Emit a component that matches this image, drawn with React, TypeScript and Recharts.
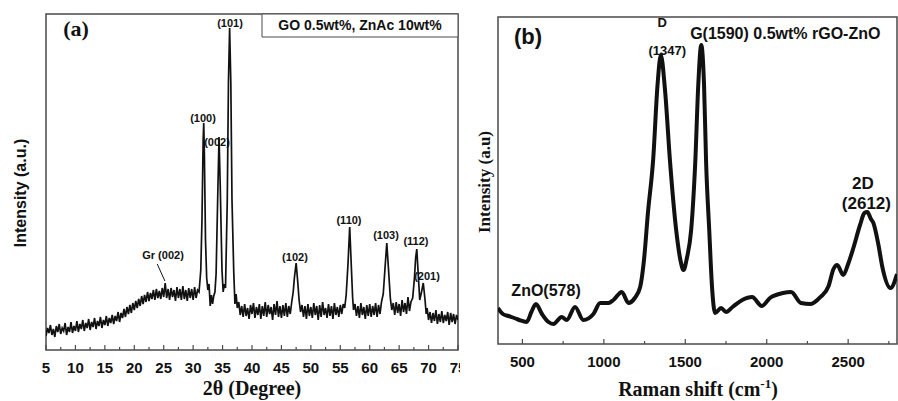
import React from "react";
import { LineChart, Line, XAxis, YAxis, ReferenceArea, ReferenceDot, ReferenceLine } from "recharts";

// (a) XRD scan, 2theta (deg) vs counts (a.u.)
const xrdScan: [number, number][] = [
  [5, 14], [5.25, 22], [5.5, 17], [5.75, 25], [6, 15], [6.25, 21], [6.5, 13], [6.75, 24], [7, 18], [7.25, 26],
  [7.5, 16], [7.75, 22], [8, 19], [8.25, 27], [8.5, 15], [8.75, 23], [9, 18], [9.25, 28], [9.5, 17], [9.75, 24],
  [10, 19], [10.25, 29], [10.5, 18], [10.75, 26], [11, 21], [11.25, 30], [11.5, 19], [11.75, 27], [12, 22], [12.25, 31],
  [12.5, 20], [12.75, 28], [13, 23], [13.25, 32], [13.5, 21], [13.75, 29], [14, 24], [14.25, 33], [14.5, 22], [14.75, 30],
  [15, 25], [15.25, 34], [15.5, 24], [15.75, 32], [16, 27], [16.25, 35], [16.5, 26], [16.75, 34], [17, 29], [17.25, 38],
  [17.5, 28], [17.75, 37], [18, 32], [18.25, 41], [18.5, 33], [18.75, 43], [19, 36], [19.25, 45], [19.5, 37], [19.75, 47],
  [20, 40], [20.25, 49], [20.5, 42], [20.75, 51], [21, 44], [21.25, 54], [21.5, 46], [21.75, 55], [22, 48], [22.25, 58],
  [22.5, 49], [22.75, 57], [23, 51], [23.25, 60], [23.5, 50], [23.75, 61], [24, 52], [24.25, 59], [24.5, 51], [24.75, 62],
  [25, 53], [25.25, 67], [25.5, 52], [25.75, 61], [26, 50], [26.25, 62], [26.5, 53], [26.75, 60], [27, 49], [27.25, 63],
  [27.5, 52], [27.75, 61], [28, 50], [28.25, 64], [28.5, 51], [28.75, 60], [29, 49], [29.25, 62], [29.5, 52], [29.75, 61],
  [30, 50], [30.25, 63], [30.5, 52], [30.75, 60], [31, 58], [31.3, 80], [31.5, 130], [31.7, 210], [31.8, 227], [31.9, 200],
  [32.1, 110], [32.3, 72], [32.5, 60], [32.7, 66], [32.9, 44], [33.1, 55], [33.3, 46], [33.5, 54], [33.7, 58], [33.9, 76],
  [34.2, 160], [34.4, 213], [34.6, 165], [34.9, 80], [35.1, 58], [35.3, 66], [35.5, 62], [35.8, 150], [36, 268], [36.2, 322],
  [36.4, 268], [36.6, 150], [36.9, 78], [37.1, 46], [37.3, 56], [37.5, 42], [37.75, 48], [38, 35], [38.25, 44], [38.5, 33],
  [38.75, 46], [39, 34], [39.25, 42], [39.5, 31], [39.75, 45], [40, 36], [40.25, 47], [40.5, 32], [40.75, 43], [41, 35],
  [41.25, 46], [41.5, 31], [41.75, 44], [42, 34], [42.25, 48], [42.5, 33], [42.75, 45], [43, 36], [43.25, 43], [43.5, 30],
  [43.75, 46], [44, 35], [44.25, 49], [44.5, 33], [44.75, 44], [45, 32], [45.25, 45], [45.5, 34], [45.75, 47], [46, 33],
  [46.25, 44], [46.5, 36], [46.75, 48], [47, 58], [47.2, 72], [47.5, 87], [47.8, 66], [48, 50], [48.25, 38], [48.5, 45],
  [48.75, 33], [49, 44], [49.25, 31], [49.5, 46], [49.75, 34], [50, 43], [50.25, 32], [50.5, 47], [50.75, 35], [51, 44],
  [51.25, 30], [51.5, 45], [51.75, 33], [52, 48], [52.25, 35], [52.5, 42], [52.75, 32], [53, 46], [53.25, 34], [53.5, 44],
  [53.75, 31], [54, 47], [54.25, 35], [54.5, 43], [54.75, 33], [55, 45], [55.25, 36], [55.5, 46], [55.75, 42], [56, 55],
  [56.3, 85], [56.6, 123], [56.9, 80], [57.1, 52], [57.25, 40], [57.5, 46], [57.75, 34], [58, 44], [58.25, 32], [58.5, 47],
  [58.75, 35], [59, 43], [59.25, 31], [59.5, 45], [59.75, 34], [60, 46], [60.25, 33], [60.5, 44], [60.75, 35], [61, 47],
  [61.25, 33], [61.5, 45], [61.75, 36], [62, 48], [62.3, 56], [62.6, 82], [62.9, 107], [63.2, 80], [63.5, 52], [63.75, 40],
  [64, 47], [64.25, 35], [64.5, 48], [64.75, 37], [65, 46], [65.25, 34], [65.5, 50], [65.75, 38], [66, 47], [66.25, 36],
  [66.5, 53], [66.75, 39], [67, 48], [67.3, 52], [67.6, 72], [67.8, 92], [68, 101], [68.2, 80], [68.5, 50], [68.8, 58],
  [69.1, 67], [69.4, 50], [69.6, 36], [69.75, 42], [70, 30], [70.25, 38], [70.5, 27], [70.75, 37], [71, 29], [71.25, 40],
  [71.5, 26], [71.75, 36], [72, 28], [72.25, 39], [72.5, 27], [72.75, 35], [73, 29], [73.25, 38], [73.5, 25], [73.75, 37],
  [74, 28], [74.25, 36], [74.5, 26], [74.75, 35], [75, 30],
];
const xrdTicks = [5, 7.5, 10, 12.5, 15, 17.5, 20, 22.5, 25, 27.5, 30, 32.5, 35, 37.5, 40, 42.5, 45, 47.5, 50, 52.5, 55, 57.5, 60, 62.5, 65, 67.5, 70, 72.5, 75];
const xrdPeakNames = ["(100)", "(002)", "(101)", "Gr (002)", "(102)", "(110)", "(103)", "(112)", "(201)"];
const xrdPeakLabelAt: [number, number][] = [
  [31.67, 232], [34.05, 208], [36.26, 327], [24.88, 95], [47.3, 93], [56.48, 130], [62.77, 115], [67.86, 109], [69.73, 74],
];

// (b) Raman spectrum, shift (cm-1) vs intensity (a.u.)
const ramanScan: [number, number][] = [
  [350, 36], [380, 30], [413, 28], [450, 26], [480, 24], [526, 22], [555, 32], [583, 40], [620, 30], [660, 22],
  [690, 20], [741, 27], [772, 24], [823, 37], [874, 24], [936, 30], [977, 41], [1028, 41], [1059, 44], [1110, 52],
  [1151, 41], [1190, 46], [1223, 57], [1247, 85], [1270, 130], [1303, 185], [1330, 260], [1350, 289], [1375, 255], [1407, 181],
  [1444, 114], [1470, 84], [1489, 74], [1510, 86], [1536, 114], [1561, 181], [1580, 260], [1598, 299], [1615, 260], [1628, 181],
  [1647, 114], [1665, 55], [1683, 31], [1720, 36], [1750, 32], [1790, 37], [1850, 44], [1910, 47], [1970, 38], [2020, 46],
  [2100, 51], [2150, 52], [2210, 41], [2270, 40], [2330, 47], [2380, 58], [2410, 75], [2433, 79], [2470, 69], [2500, 80],
  [2532, 96], [2573, 119], [2600, 131], [2618, 132], [2640, 125], [2655, 121], [2685, 100], [2710, 77], [2760, 56], [2800, 70],
];
const ramanTicks = [500, 750, 1000, 1250, 1500, 1750, 2000, 2250, 2500, 2750];

const xrdRows = xrdScan.map(([theta, counts]) => ({ theta, counts }));
const ramanRows = ramanScan.map(([shift, intensity]) => ({ shift, intensity }));

const SANS = '"Liberation Sans", Arial, sans-serif';
const SERIF = '"Liberation Serif", "Times New Roman", serif';
const INK = "#111";
const FRAME = "#4a4a4a";

function inwardTick(step: number) {
  return function TickMark(props: any) {
    const { x, y, payload } = props;
    const major = Math.abs(payload.value / step - Math.round(payload.value / step)) < 1e-6;
    return (
      <g>
        <line x1={x} x2={x} y1={y} y2={y - (major ? 5 : 3)} stroke={FRAME} strokeWidth={1.2} />
        {major && (
          <text x={x} y={y + 23} textAnchor="middle" fontFamily={SANS} fontWeight="bold" fontSize={15} fill={INK}>
            {payload.value}
          </text>
        )}
      </g>
    );
  };
}

const note = (value: string, size: number) => ({
  value,
  position: "center" as const,
  fill: INK,
  fontSize: size,
  fontWeight: "bold",
  fontFamily: SANS,
});

function XrdPanel() {
  return (
    <LineChart width={460} height={401} data={xrdRows} margin={{ top: 14, right: 2, bottom: 11, left: 0 }}>
      <XAxis
        type="number"
        dataKey="theta"
        domain={[5, 75]}
        ticks={xrdTicks}
        interval={0}
        allowDataOverflow
        axisLine={false}
        tickLine={false}
        tickSize={0}
        tickMargin={0}
        height={40}
        tick={inwardTick(5)}
        label={{
          content: () => (
            <text x={252} y={395} textAnchor="middle" fontFamily={SERIF} fontWeight="bold" fontSize={20} fill={INK}>
              2θ (Degree)
            </text>
          ),
        }}
      />
      <YAxis
        type="number"
        domain={[0, 336]}
        allowDataOverflow
        width={46}
        tick={false}
        axisLine={false}
        tickLine={false}
        label={{
          content: () => (
            <text
              x={20}
              y={193}
              transform="rotate(-90 20 193)"
              textAnchor="middle"
              dominantBaseline="central"
              fontFamily={SANS}
              fontWeight="bold"
              fontSize={16}
              fill={INK}
            >
              Intensity (a.u.)
            </text>
          ),
        }}
      />
      <ReferenceArea x1={5} x2={75} y1={0} y2={336} fill="none" stroke={FRAME} strokeWidth={1.5} />
      <ReferenceArea
        x1={41.7}
        x2={75}
        y1={313}
        y2={336}
        fill="#fff"
        fillOpacity={1}
        stroke={FRAME}
        strokeWidth={1}
        label={note("GO 0.5wt%, ZnAc 10wt%", 14)}
      />
      <ReferenceDot x={10.1} y={322} r={0} stroke="none" label={{ ...note("(a)", 22), fontFamily: SERIF }} />
      {xrdPeakNames.map((name, i) => (
        <ReferenceDot key={name + i} x={xrdPeakLabelAt[i][0]} y={xrdPeakLabelAt[i][1]} r={0} stroke="none" label={note(name, 11)} />
      ))}
      <ReferenceLine segment={[{ x: 23.9, y: 86 }, { x: 25.2, y: 69 }]} stroke={INK} strokeWidth={1} />
      <Line type="linear" dataKey="counts" stroke={INK} strokeWidth={1.7} dot={false} isAnimationActive={false} />
    </LineChart>
  );
}

function RamanPanel() {
  return (
    <LineChart width={438} height={401} data={ramanRows} margin={{ top: 17, right: 1, bottom: 17, left: 0 }}>
      <XAxis
        type="number"
        dataKey="shift"
        domain={[350, 2800]}
        ticks={ramanTicks}
        interval={0}
        allowDataOverflow
        axisLine={false}
        tickLine={false}
        tickSize={0}
        tickMargin={0}
        height={40}
        tick={inwardTick(500)}
        label={{
          content: () => (
            <text x={238} y={396} textAnchor="middle" fontFamily={SERIF} fontWeight="bold" fontSize={20} fill={INK}>
              Raman shift (cm
              <tspan fontSize={13} dy={-8}>-1</tspan>
              <tspan dy={8}>)</tspan>
            </text>
          ),
        }}
      />
      <YAxis
        type="number"
        domain={[0, 327]}
        allowDataOverflow
        width={38}
        tick={false}
        axisLine={false}
        tickLine={false}
        label={{
          content: () => (
            <text
              x={24}
              y={182}
              transform="rotate(-90 24 182)"
              textAnchor="middle"
              dominantBaseline="central"
              fontFamily={SERIF}
              fontWeight="bold"
              fontSize={17}
              fill={INK}
            >
              Intensity (a.u)
            </text>
          ),
        }}
      />
      <ReferenceArea x1={350} x2={2800} y1={0} y2={327} fill="none" stroke={FRAME} strokeWidth={1.5} />
      <ReferenceDot x={534} y={308} r={0} stroke="none" label={note("(b)", 22)} />
      <ReferenceDot x={1358} y={322} r={0} stroke="none" label={note("D", 13)} />
      <ReferenceDot x={1389} y={294} r={0} stroke="none" label={note("(1347)", 13)} />
      <ReferenceDot x={2114} y={311} r={0} stroke="none" label={note("G(1590) 0.5wt% rGO-ZnO", 16)} />
      <ReferenceDot x={2590} y={161} r={0} stroke="none" label={note("2D", 17)} />
      <ReferenceDot x={2612} y={141} r={0} stroke="none" label={note("(2612)", 17)} />
      <ReferenceDot x={645} y={54} r={0} stroke="none" label={note("ZnO(578)", 16)} />
      <Line type="monotone" dataKey="intensity" stroke={INK} strokeWidth={4} dot={false} isAnimationActive={false} />
    </LineChart>
  );
}

export default function App() {
  return (
    <div style={{ position: "absolute", left: 0, top: 0, width: 898, height: 401, background: "#fff", overflow: "hidden" }}>
      <div style={{ position: "absolute", left: 0, top: 0 }}>
        <XrdPanel />
      </div>
      <div style={{ position: "absolute", left: 460, top: 0 }}>
        <RamanPanel />
      </div>
    </div>
  );
}
